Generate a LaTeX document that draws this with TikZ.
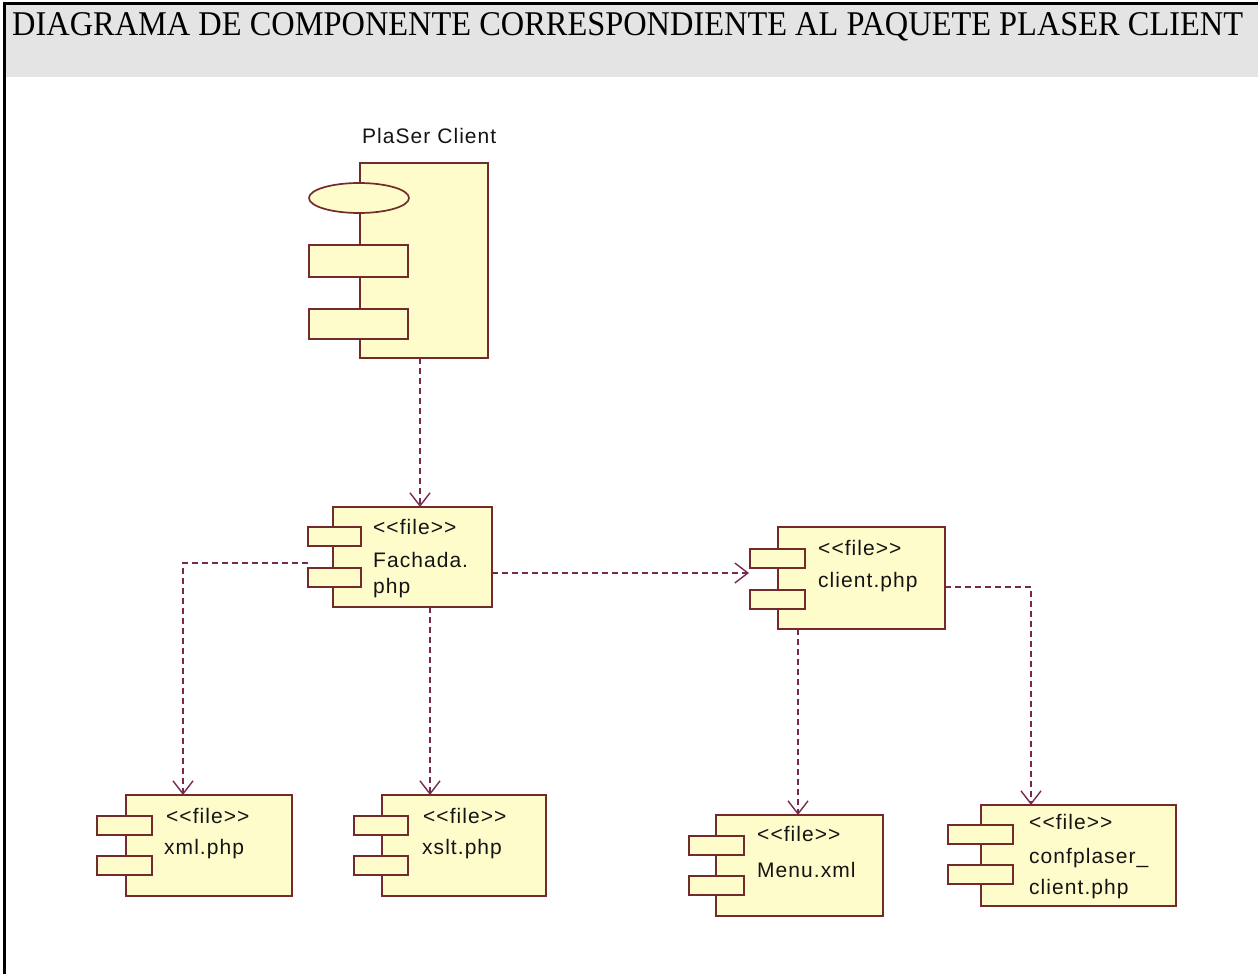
\documentclass[tikz,border=0pt]{standalone}
\usepackage{fontspec}
\usepackage{graphicx}
\setmainfont{Liberation Serif}
\newfontfamily\umlfont[LetterSpace=5]{Liberation Sans}
\usetikzlibrary{arrows.meta}

\definecolor{boxline}{RGB}{115,42,42}
\definecolor{boxfill}{RGB}{255,252,204}
\definecolor{depline}{RGB}{120,40,78}
\definecolor{headgray}{RGB}{228,228,228}
\definecolor{umltext}{RGB}{20,20,20}

\tikzset{
  compbody/.style={draw=boxline, fill=boxfill, line width=1.7pt, inner sep=0pt, outer sep=0pt},
  comptab/.style={draw=boxline, fill=boxfill, line width=1.7pt},
  umllabel/.style={anchor=base west, inner sep=0pt, text=umltext,
    font=\umlfont\fontsize{21pt}{25pt}\selectfont},
  dep/.style={draw=depline, line width=1.4pt, dash pattern=on 6pt off 4pt,
    -{Straight Barb[length=13pt,width=20pt,line width=1.4pt]}},
}

% component: name, left, top, right, bottom, tab left, tab right, tab1 top, tab2 top
\newcommand{\umlcomp}[9]{%
  \node[compbody, anchor=north west, minimum width={(#4-#2)*1pt},
        minimum height={(#5-#3)*1pt}] (#1) at (#2,#3) {};
  \draw[comptab] (#6,#8) rectangle (#7,#8+19);
  \draw[comptab] (#6,#9) rectangle (#7,#9+19);
}

\begin{document}
\begin{tikzpicture}[x=1pt,y=-1pt]
\useasboundingbox (0,0) rectangle (1258,974);

% header band and frame
\fill[headgray] (6,5.5) rectangle (1258,77);
\draw[line width=3pt] (4.5,974) -- (4.5,4) -- (1258,4);
\node[anchor=base west, inner sep=0pt] (title) at (12,36)
  {\resizebox{1231pt}{\height}{\fontsize{34.7pt}{40pt}\selectfont DIAGRAMA DE COMPONENTE CORRESPONDIENTE AL PAQUETE PLASER CLIENT}};

% subsystem PlaSer Client
\node[compbody, anchor=north west, minimum width=128pt, minimum height=195pt] (plaser) at (360,163) {};
\draw[comptab] (359,198) ellipse [x radius=50, y radius=15];
\draw[comptab] (309,245) rectangle (408,277);
\draw[comptab] (309,309) rectangle (408,339);
\node[umllabel] (plaser-name) at (362,143) {PlaSer Client};

% file components
\umlcomp{fachada}{333}{507}{492}{607}{308}{361}{527}{568}
\node[umllabel] (fachada-t1) at (373,534) {<<file>>};
\node[umllabel] (fachada-t2) at (373,567) {Fachada.};
\node[umllabel] (fachada-t3) at (373,593) {php};

\umlcomp{client}{778}{527}{945}{629}{750}{805}{549}{590}
\node[umllabel] (client-t1) at (818,555) {<<file>>};
\node[umllabel] (client-t2) at (818,587) {client.php};

\umlcomp{xml}{126}{795}{292}{896}{97}{152}{816}{856}
\node[umllabel] (xml-t1) at (166,823) {<<file>>};
\node[umllabel] (xml-t2) at (164,854) {xml.php};

\umlcomp{xslt}{382}{795}{546}{896}{354}{408}{816}{856}
\node[umllabel] (xslt-t1) at (423,823) {<<file>>};
\node[umllabel] (xslt-t2) at (422,854) {xslt.php};

\umlcomp{menu}{716}{815}{883}{916}{689}{744}{836}{876}
\node[umllabel] (menu-t1) at (757,841) {<<file>>};
\node[umllabel] (menu-t2) at (757,877) {Menu.xml};

\umlcomp{conf}{981}{805}{1176}{906}{948}{1013}{825}{865}
\node[umllabel] (conf-t1) at (1029,829) {<<file>>};
\node[umllabel] (conf-t2) at (1029,863) {confplaser\_};
\node[umllabel] (conf-t3) at (1029,894) {client.php};

% routing points of the dependencies
\coordinate (r1) at (420,0);
\coordinate (r2) at (183,563);
\coordinate (r2s) at (308,563);
\coordinate (r3) at (430,0);
\coordinate (r4) at (749,573);
\coordinate (r5) at (1031,587);
\coordinate (r6) at (798,0);

% dependencies
\draw[dep] (plaser.south -| r1) -- (fachada.north -| r1);
\draw[dep] (r2s) -- (r2) -- (xml.north -| r2);
\draw[dep] (fachada.south -| r3) -- (xslt.north -| r3);
\draw[dep] (fachada.east |- r4) -- (r4);
\draw[dep] (client.east |- r5) -- (r5) -- (conf.north -| r5);
\draw[dep] (client.south -| r6) -- (menu.north -| r6);
\end{tikzpicture}
\end{document}
